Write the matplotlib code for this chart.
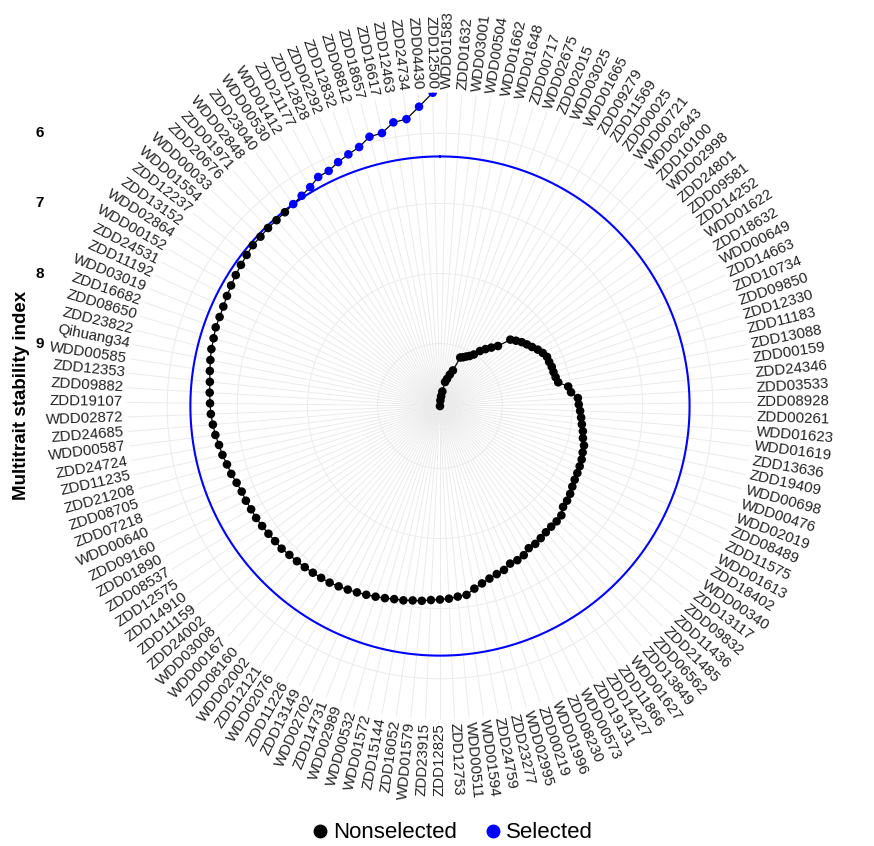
import numpy as np
import matplotlib.pyplot as plt
from matplotlib.lines import Line2D

plt.rcParams['font.family'] = ['Liberation Sans', 'DejaVu Sans']

# genotypes ranked from best (lowest index) to worst
genotypes = [
    "ZDD12500", "ZDD04430", "ZDD24734", "ZDD12463", "ZDD16617", "ZDD18657", "ZDD08812", "ZDD12832",
    "ZDD02292", "ZDD12828", "ZDD21177", "WDD01412", "WDD00530", "ZDD23040", "WDD02848", "ZDD01971",
    "ZDD20676", "WDD00033", "WDD01554", "ZDD12237", "ZDD13152", "WDD02864", "WDD00152", "ZDD24531",
    "ZDD11192", "WDD03019", "ZDD16682", "ZDD08650", "ZDD23822", "Qihuang34", "WDD00585", "ZDD12353",
    "ZDD09882", "ZDD19107", "WDD02872", "ZDD24685", "WDD00587", "ZDD24724", "ZDD11235", "ZDD21208",
    "ZDD08705", "ZDD07218", "WDD00640", "ZDD09160", "ZDD01890", "ZDD08537", "ZDD12575", "ZDD14910",
    "ZDD11159", "ZDD24002", "WDD03008", "WDD00167", "ZDD08160", "WDD02002", "ZDD12121", "WDD02076",
    "ZDD11226", "ZDD13149", "WDD02702", "ZDD14731", "WDD02989", "WDD00532", "WDD01572", "ZDD15144",
    "ZDD16052", "WDD01579", "ZDD23915", "ZDD12825", "ZDD12753", "WDD00511", "WDD01594", "ZDD24759",
    "ZDD23277", "WDD02995", "ZDD00219", "WDD01996", "ZDD08230", "WDD00573", "ZDD19131", "ZDD14227",
    "ZDD11866", "WDD01627", "ZDD13849", "ZDD06562", "ZDD21485", "ZDD11436", "ZDD09832", "ZDD13117",
    "WDD00340", "ZDD18402", "WDD01613", "ZDD11575", "ZDD08489", "WDD02019", "WDD00476", "WDD00698",
    "ZDD19409", "ZDD13636", "WDD01619", "WDD01623", "ZDD00261", "ZDD08928", "ZDD03533", "ZDD24346",
    "ZDD00159", "ZDD13088", "ZDD11183", "ZDD12330", "ZDD09850", "ZDD10734", "ZDD14663", "WDD00649",
    "ZDD18632", "WDD01622", "ZDD14252", "ZDD09581", "ZDD24801", "WDD02998", "ZDD10100", "WDD02643",
    "WDD00721", "ZDD00025", "ZDD11569", "ZDD09279", "WDD01665", "WDD03025", "ZDD02015", "WDD02675",
    "ZDD00717", "WDD01648", "WDD01662", "WDD00504", "WDD03001", "ZDD01632", "WDD01583",
]

mgidi = [
    5.42, 5.61, 5.77, 5.79, 5.91, 5.92, 6.02, 6.07, 6.12, 6.18, 6.19, 6.26, 6.30, 6.33, 6.35,
    6.36, 6.36, 6.37, 6.37, 6.39, 6.41, 6.43, 6.45, 6.47, 6.49, 6.50, 6.50, 6.52, 6.53, 6.55,
    6.57, 6.59, 6.60, 6.61, 6.62, 6.64, 6.66, 6.69, 6.71, 6.74, 6.76, 6.79, 6.81, 6.81, 6.82,
    6.82, 6.83, 6.84, 6.85, 6.85, 6.87, 6.88, 6.89, 6.90, 6.91, 6.92, 6.94, 6.96, 6.98, 7.00,
    7.02, 7.04, 7.06, 7.07, 7.09, 7.10, 7.12, 7.13, 7.14, 7.16, 7.17, 7.24, 7.29, 7.33, 7.36,
    7.38, 7.43, 7.43, 7.45, 7.50, 7.50, 7.52, 7.54, 7.55, 7.55, 7.56, 7.62, 7.63, 7.65, 7.68,
    7.70, 7.71, 7.72, 7.73, 7.75, 7.76, 7.80, 7.82, 7.85, 7.87, 7.89, 7.91, 7.92, 8.01, 8.04,
    8.17, 8.19, 8.20, 8.20, 8.21, 8.21, 8.24, 8.28, 8.33, 8.37, 8.41, 8.46, 8.51, 8.70, 8.78,
    8.85, 8.92, 9.01, 9.06, 9.09, 9.12, 9.14, 9.35, 9.42, 9.49, 9.54, 9.68, 9.75, 9.81, 9.89,
]

n_selected = 14
cutoff = 6.33
r_ticks = [6, 7, 8, 9]

n = len(genotypes)
vals = np.array(mgidi)
theta = (np.arange(n) + 0.5) * 2 * np.pi / n
sel = np.arange(n) < n_selected

fig = plt.figure(figsize=(8.74, 8.46), dpi=100)
ax = fig.add_axes([0.1448, 0.1496, 0.7172, 0.7409], projection='polar')
ax.set_theta_zero_location('N')
ax.set_theta_direction(1)
ax.set_rlim(vals.max(), vals.min())

# grid: one spoke per genotype, circles at the r ticks
ax.set_xticks(theta)
ax.set_xticklabels([])
ax.set_yticks(r_ticks)
ax.set_yticklabels([])
ax.tick_params(length=0)
ax.grid(True, color='#EBEBEB', lw=0.7)
ax.spines['polar'].set_visible(False)

# cutoff circle
circ = np.linspace(0, 2 * np.pi, 500)
ax.plot(circ, np.full_like(circ, cutoff), color='blue', lw=1.5, zorder=2)

ax.plot(theta, vals, color='black', lw=0.9, zorder=3)
ax.scatter(theta[~sel], vals[~sel], s=38, color='black', edgecolor='none', zorder=4)
ax.scatter(theta[sel], vals[sel], s=38, color='blue', edgecolor='none', zorder=4)

# genotype labels around the circle
r_lab = vals.min() - 0.05
for t, name in zip(theta, genotypes):
    deg = np.round(np.degrees(t), 6)
    if deg <= 180:
        rot, ha = deg - 90, 'right'
    else:
        rot, ha = deg - 270, 'left'
    ax.text(t, r_lab, name, rotation=rot, rotation_mode='anchor', ha=ha, va='center',
            fontsize=10.8, color='#222222', clip_on=False)

# radial tick labels drawn on the left, like a y axis
for v in r_ticks:
    yd = ax.transData.transform((0, v))[1]
    yf = fig.transFigure.inverted().transform((0, yd))[1]
    fig.text(0.05, yf, str(v), ha='right', va='center', fontsize=11, fontweight='bold')

fig.text(0.025, 0.533, 'Multitrait stability index', rotation=90, ha='center', va='center',
         fontsize=13.5, fontweight='bold')

handles = [Line2D([], [], ls='none', marker='o', color='black', markersize=9),
           Line2D([], [], ls='none', marker='o', color='blue', markersize=9)]
fig.legend(handles, ['Nonselected', 'Selected'], loc='center', bbox_to_anchor=(0.517, 0.0154),
           ncol=2, frameon=False, fontsize=16, handlelength=0.8, handletextpad=0.2,
           columnspacing=1.2)

fig.savefig('out.png', dpi=100, facecolor='white')
